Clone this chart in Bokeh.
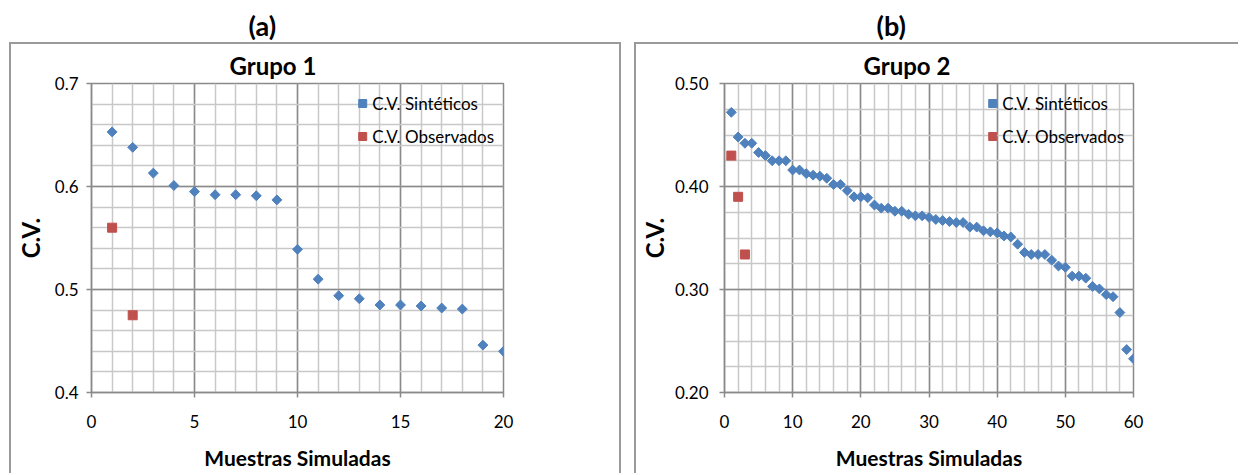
import numpy as np
from bokeh.plotting import figure
from bokeh.layouts import row, column
from bokeh.models import (Range1d, FixedTicker, PrintfTickFormatter,
                          Legend, LegendItem)
from bokeh.embed import file_html
from bokeh.resources import INLINE

# ---------------- data ----------------
g1_x = list(range(1, 21))
g1_sint = [0.653, 0.638, 0.613, 0.601, 0.595, 0.592, 0.592, 0.591, 0.587, 0.539,
           0.510, 0.494, 0.491, 0.485, 0.485, 0.484, 0.482, 0.481, 0.446, 0.440]
g1_obs_x = [1, 2]
g1_obs = [0.560, 0.475]

g2_x = list(range(1, 61))
g2_sint = [0.472, 0.448, 0.442, 0.442, 0.433, 0.430, 0.425, 0.425, 0.425, 0.416,
           0.416, 0.4125, 0.411, 0.410, 0.408, 0.402, 0.402, 0.396, 0.390, 0.390,
           0.389, 0.382, 0.379, 0.379, 0.376, 0.376, 0.373, 0.3715, 0.3715, 0.370,
           0.368, 0.367, 0.366, 0.365, 0.365, 0.3606, 0.3606, 0.357, 0.356, 0.355,
           0.352, 0.351, 0.344, 0.336, 0.334, 0.334, 0.334, 0.3285, 0.3228, 0.3215,
           0.313, 0.313, 0.311, 0.303, 0.3006, 0.295, 0.293, 0.2776, 0.2417, 0.2327]
g2_obs_x = [1, 2, 3]
g2_obs = [0.430, 0.390, 0.334]

g1_xticks = [0, 5, 10, 15, 20]
g1_yticks = [0.4, 0.5, 0.6, 0.7]
g2_xticks = [0, 10, 20, 30, 40, 50, 60]
g2_yticks = [0.2, 0.3, 0.4, 0.5]

panel_titles = ["(a)", "(b)"]
chart_titles = ["Grupo 1", "Grupo 2"]
x_label = "Muestras Simuladas"
y_label = "C.V."
legend_labels = ["C.V. Sintéticos", "C.V. Observados"]

BLUE = "#4F81BD"
RED = "#C0504D"
FONT = "Lato"
MAJOR = "#8a8a8a"
MINOR = "#c8c8c8"
BORDER = "2px solid #9a9a9a"


def title_fig(text, width, offset):
    t = figure(width=width, height=42, output_backend="svg", toolbar_location=None,
               x_axis_location=None, y_axis_location=None,
               min_border_left=0, min_border_right=0,
               min_border_top=41, min_border_bottom=0)
    t.outline_line_color = None
    t.grid.grid_line_color = None
    t.title.text = text
    t.title.align = "left"
    t.title.offset = offset
    t.title.text_font = FONT
    t.title.text_font_size = "27px"
    t.title.text_font_style = "bold"
    t.title.text_color = "black"
    t.title.standoff = 0
    return t


def make_panel(xs, ys, oxs, oys, xticks, yticks, xminor_step, yminor_step, yfmt,
               width, fl, fr, ctitle, toffset, ytick_standoff, ylabel_standoff,
               styles, margin):
    H = 431
    p = figure(width=width, height=H, output_backend="svg", toolbar_location=None,
               x_range=Range1d(xticks[0], xticks[-1]),
               y_range=Range1d(yticks[0], yticks[-1]),
               min_border_left=fl, min_border_right=fr, min_border_top=37,
               min_border_bottom=83, styles=styles, margin=margin)
    p.background_fill_color = "white"
    p.border_fill_color = "white"
    p.outline_line_color = MAJOR
    p.outline_line_width = 1.5

    xminor = list(np.round(np.arange(xticks[0], xticks[-1] + 1e-9, xminor_step), 4))
    yminor = list(np.round(np.arange(yticks[0], yticks[-1] + 1e-9, yminor_step), 4))
    p.xaxis.ticker = FixedTicker(ticks=xticks, minor_ticks=xminor)
    p.yaxis.ticker = FixedTicker(ticks=yticks, minor_ticks=yminor)
    p.yaxis.formatter = PrintfTickFormatter(format=yfmt)
    p.xaxis.formatter = PrintfTickFormatter(format="%d")

    for ax in (p.xaxis, p.yaxis):
        ax.axis_line_color = MAJOR
        ax.axis_line_width = 1.5
        ax.major_tick_line_color = MAJOR
        ax.major_tick_line_width = 1.5
        ax.major_tick_out = 5
        ax.major_tick_in = 0
        ax.minor_tick_line_color = None
        ax.major_label_text_font = FONT
        ax.major_label_text_font_size = "17px"
        ax.major_label_text_color = "black"
        ax.axis_label_text_font = FONT
        ax.axis_label_text_font_style = "bold"
        ax.axis_label_text_color = "black"
    p.xaxis.axis_label = x_label
    p.yaxis.axis_label = y_label
    p.xaxis.axis_label_text_font_size = "21px"
    p.yaxis.axis_label_text_font_size = "24px"
    p.xaxis.major_label_standoff = 17
    p.xaxis.axis_label_standoff = 14
    p.yaxis.major_label_standoff = ytick_standoff
    p.yaxis.axis_label_standoff = ylabel_standoff

    for g in (p.xgrid, p.ygrid):
        g.grid_line_color = MAJOR
        g.grid_line_width = 1.5
        g.minor_grid_line_color = MINOR
        g.minor_grid_line_width = 1.5
        g.level = "underlay"

    r1 = p.scatter(xs, ys, marker="square", size=7, angle=0.785398,
                   fill_color=BLUE, line_color=BLUE)
    r2 = p.scatter(oxs, oys, marker="square", size=9,
                   fill_color=RED, line_color=RED)

    leg = Legend(items=[LegendItem(label=legend_labels[0], renderers=[r1]),
                        LegendItem(label=legend_labels[1], renderers=[r2])],
                 location="top_right", margin=9, padding=11, spacing=11,
                 glyph_width=20, glyph_height=20, label_height=22,
                 label_standoff=-4, border_line_color=None,
                 background_fill_alpha=0,
                 label_text_font=FONT, label_text_font_size="17px",
                 label_text_color="black")
    p.add_layout(leg)

    p.title.text = ctitle
    p.title.align = "left"
    p.title.offset = toffset
    p.title.text_font = FONT
    p.title.text_font_size = "24px"
    p.title.text_font_style = "bold"
    p.title.text_color = "black"
    p.title.standoff = 8
    return p


tA = title_fig(panel_titles[0], 625, 168)
pA = make_panel(g1_x, g1_sint, g1_obs_x, g1_obs, g1_xticks, g1_yticks, 1, 0.02, "%.1f",
                612, 80, 120, chart_titles[0], 138, 8, 7,
                {"border-left": BORDER, "border-top": BORDER, "border-right": BORDER},
                (0, 0, 0, 9))
tB = title_fig(panel_titles[1], 606, 154)
pB = make_panel(g2_x, g2_sint, g2_obs_x, g2_obs, g2_xticks, g2_yticks, 2, 0.025, "%.2f",
                604, 86, 107, chart_titles[1], 139, 11, 3,
                {"border-left": BORDER, "border-top": BORDER},
                (0, 0, 0, 0))

layout = row(column(tA, pA), column(tB, pB), spacing=9)
open("out.html", "w").write(file_html(layout, INLINE))
